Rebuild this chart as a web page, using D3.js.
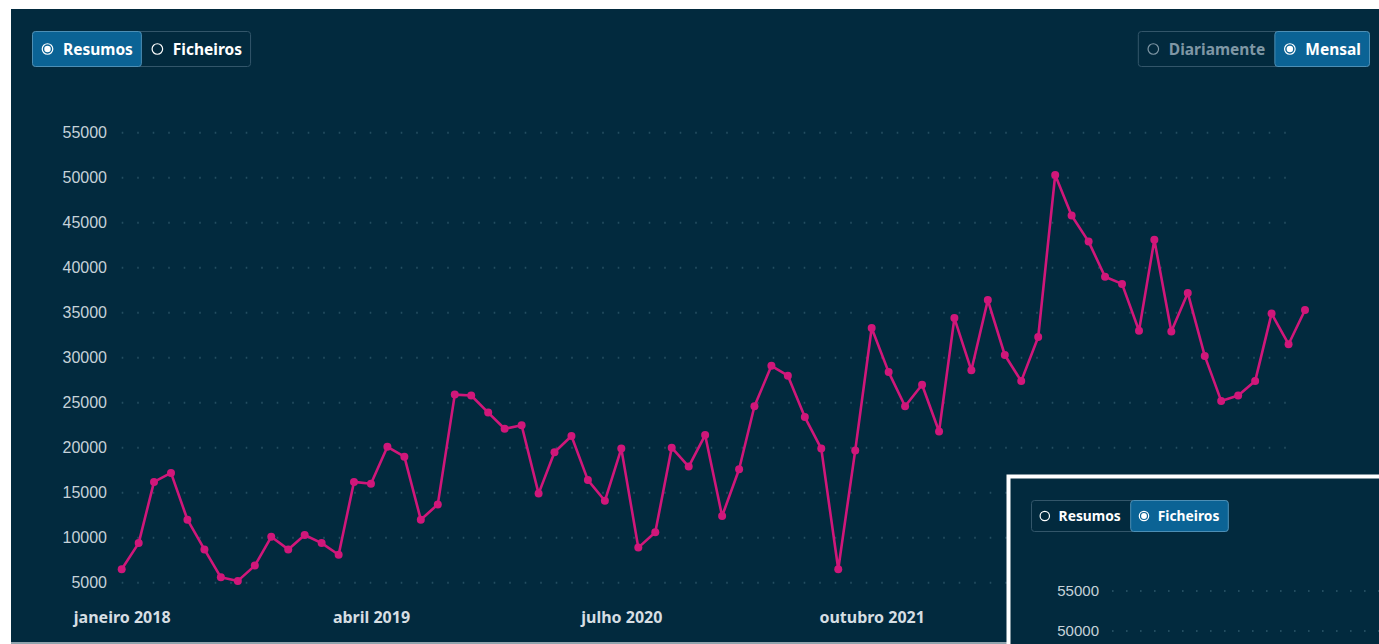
<!DOCTYPE html>
<html>
<head>
<meta charset="utf-8">
<script src="https://cdn.jsdelivr.net/npm/d3@7"></script>
<style>
  body { margin: 0; background: #ffffff; overflow: hidden; }
  svg { display: block; }
  .ylab { font-family: "Liberation Sans", Arial, sans-serif; fill: #c6d2d9; }
  .xlab { font-family: "Noto Sans", sans-serif; font-weight: 700; fill: #d6dee3; }
  .btn { font-family: "Noto Sans", sans-serif; font-weight: 700; }
</style>
</head>
<body>
<script>
// monthly totals, janeiro 2018 .. dezembro 2023
var values2018 = [6500, 9400, 16200, 17200, 12000, 8700, 5600, 5200, 6900, 10100, 8700, 10300];
var values2019 = [9400, 8100, 16200, 16000, 20100, 19000, 12000, 13700, 25900, 25800, 23900, 22100];
var values2020 = [22500, 14900, 19500, 21300, 16400, 14100, 19900, 8900, 10600, 20000, 17900, 21400];
var values2021 = [12400, 17600, 24600, 29100, 28000, 23400, 19900, 6500, 19700, 33300, 28400, 24600];
var values2022 = [27000, 21800, 34400, 28600, 36400, 30300, 27400, 32300, 50300, 45800, 42900, 39000];
var values2023 = [38200, 33000, 43100, 32900, 37200, 30200, 25200, 25800, 27400, 34900, 31500, 35300];
var years = [2018, 2019, 2020, 2021, 2022, 2023];

var yTicks = [5000, 10000, 15000, 20000, 25000, 30000, 35000, 40000, 45000, 50000, 55000];
var xTickDates = [new Date(2018, 0, 1), new Date(2019, 3, 1), new Date(2020, 6, 1), new Date(2021, 9, 1)];
var xTickLabels = ["janeiro 2018", "abril 2019", "julho 2020", "outubro 2021"];

var insetTicks = [55000, 50000];
var leftToggle = ["Resumos", "Ficheiros"];
var rightToggle = ["Diariamente", "Mensal"];

var allValues = [values2018, values2019, values2020, values2021, values2022, values2023];
var data = [];
years.forEach(function(yr, yi) {
	allValues[yi].forEach(function(v, m) { data.push({ date: new Date(yr, m, 1), value: v }); });
});

var W = 1379, H = 644;
var bg = "#022a3e", lineColor = "#d0177a";

var svg = d3.select("body").append("svg").attr("width", W).attr("height", H);

// panel
svg.append("rect").attr("x", 11).attr("y", 9).attr("width", W - 11).attr("height", 633).attr("fill", bg);
svg.append("rect").attr("x", 11).attr("y", 642).attr("width", W - 11).attr("height", 2).attr("fill", "#8fa4ae");

var x = d3.scaleTime()
	.domain([data[0].date, data[data.length - 1].date])
	.range([121.7, 1305]);
var y = d3.scaleLinear().domain([0, 55000]).range([627.7, 132.7]);

// dotted gridlines
var grid = svg.append("g").attr("class", "grid");
grid.selectAll("line").data(yTicks).enter().append("line")
	.attr("x1", x.range()[0]).attr("x2", 1292)
	.attr("y1", y).attr("y2", y)
	.attr("stroke", "#234d60").attr("stroke-width", 2)
	.attr("stroke-dasharray", "1.6 13.9");

// y axis
var yAxis = svg.append("g").attr("transform", "translate(107,0)")
	.call(d3.axisLeft(y).tickValues(yTicks).tickSize(0).tickPadding(0).tickFormat(d3.format("d")));
yAxis.select(".domain").remove();
yAxis.selectAll("text").attr("class", "ylab").attr("fill", null).style("font-size", "16px");

// x axis
var xAxis = svg.append("g").attr("transform", "translate(0,606)")
	.call(d3.axisBottom(x).tickValues(xTickDates).tickSize(0).tickPadding(0)
		.tickFormat(function(d, i) { return xTickLabels[i]; }));
xAxis.select(".domain").remove();
xAxis.selectAll("text").attr("class", "xlab").attr("fill", null).style("font-size", "16px").attr("dy", "1.05em");

// line + points
var line = d3.line().x(function(d) { return x(d.date); }).y(function(d) { return y(d.value); });
svg.append("path").datum(data)
	.attr("d", line).attr("fill", "none")
	.attr("stroke", lineColor).attr("stroke-width", 2.6).attr("stroke-linejoin", "round");
svg.append("g").selectAll("circle").data(data).enter().append("circle")
	.attr("cx", function(d) { return x(d.date); })
	.attr("cy", function(d) { return y(d.value); })
	.attr("r", 4).attr("fill", lineColor);

// toggle buttons
var toggle = function(parent, left, top, h, labels, sel, size, anchorRight, dimOff) {
	var g = parent.append("g");
	var segs = [];
	var pos = 0;
	labels.forEach(function(lab, i) {
		var t = g.append("text").attr("class", "btn").style("font-size", size + "px").text(lab);
		var tw = t.node().getComputedTextLength();
		var w = Math.round(size * 2) + tw + 9;
		segs.push({ lab: lab, x: pos, w: w, t: t, sel: i === sel });
		pos += w;
	});
	var x0 = anchorRight ? left - pos : left;
	g.attr("transform", "translate(" + x0 + "," + top + ")");
	g.insert("rect", ":first-child").attr("x", 0.5).attr("y", 0.5).attr("width", pos - 1).attr("height", h - 1)
		.attr("rx", 3).attr("fill", bg).attr("stroke", "#33566a");
	segs.forEach(function(s) {
		var col = s.sel ? "#ffffff" : (dimOff ? "#7f97a5" : "#ffffff");
		if (s.sel) {
			g.insert("rect", "text").attr("x", s.x + 0.5).attr("y", 0.5).attr("width", s.w - 1).attr("height", h - 1)
				.attr("rx", 3).attr("fill", "#0b6395").attr("stroke", "#4d8fb5");
		}
		var cx = s.x + size;
		g.append("circle").attr("cx", cx).attr("cy", h / 2).attr("r", size * 0.34)
			.attr("fill", "none").attr("stroke", col).attr("stroke-width", 1.2);
		if (s.sel) g.append("circle").attr("cx", cx).attr("cy", h / 2).attr("r", size * 0.21).attr("fill", col);
		s.t.attr("x", s.x + size * 2).attr("y", h / 2).attr("dy", "0.36em").attr("fill", col);
	});
	return g;
};

toggle(svg, 32, 31, 36, leftToggle, 0, 15.5, false, false);
toggle(svg, 1370, 31, 36, rightToggle, 1, 15.5, true, true);

// inset panel (second chart peeking in)
var inset = svg.append("g");
inset.append("rect").attr("x", 1008.5).attr("y", 476.5).attr("width", W - 1006).attr("height", H - 474)
	.attr("fill", bg).attr("stroke", "#ffffff").attr("stroke-width", 4);
var yi = d3.scaleLinear().domain([50000, 55000]).range([631, 591]);
inset.selectAll("line").data(insetTicks).enter().append("line")
	.attr("x1", 1112).attr("x2", W).attr("y1", yi).attr("y2", yi)
	.attr("stroke", "#234d60").attr("stroke-width", 2).attr("stroke-dasharray", "1.6 12.4");
var iAxis = inset.append("g").attr("transform", "translate(1099,0)")
	.call(d3.axisLeft(yi).tickValues(insetTicks).tickSize(0).tickPadding(0).tickFormat(d3.format("d")));
iAxis.select(".domain").remove();
iAxis.selectAll("text").attr("class", "ylab").attr("fill", null).style("font-size", "15px");
toggle(inset, 1031, 500, 32, leftToggle, 1, 13.8, false, false);
</script>
</body>
</html>
